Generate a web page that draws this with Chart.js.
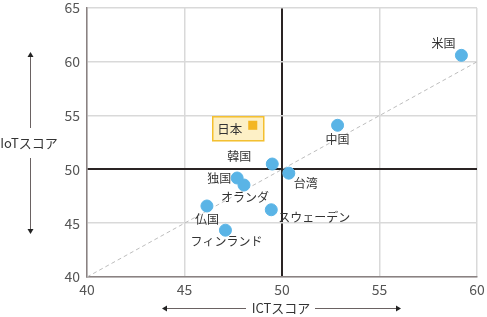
<!DOCTYPE html>
<html><head><meta charset="utf-8">
<script src="https://cdn.jsdelivr.net/npm/chart.js@4/dist/chart.umd.min.js"></script>
<style>html,body{margin:0;padding:0;background:#fff}#wrap{width:487px;height:317px}</style>
</head><body><div id="wrap"><canvas id="c" width="487" height="317"></canvas></div>
<script>
const countries = ['米国','中国','韓国','台湾','独国','オランダ','仏国','スウェーデン','フィンランド'];
const ictScores = [59.2, 52.85, 49.5, 50.35, 47.7, 48.05, 46.15, 49.45, 47.1];
const iotScores = [60.6, 54.1, 50.5, 49.65, 49.2, 48.55, 46.6, 46.25, 44.35];
const japanLabel = '日本';
const japanIct = [48.5];
const japanIot = [54.1];
const xTicks = [40, 45, 50, 55, 60];
const yTicks = [40, 45, 50, 55, 60, 65];
const refLine = [40, 60];

// label offsets (px) from each point
const labelOffsets = [[-18,-12],[0,14],[-33,-8],[17,10],[-18,0],[1,12],[0,13],[43,8],[1,11]];

const FONT = '"Noto Sans CJK JP", "Noto Sans", sans-serif';

const labelPlugin = {
  id: 'labels',
  beforeDatasetsDraw(chart) {
    const ctx = chart.ctx;
    const p = chart.getDatasetMeta(1).data[0];
    ctx.save();
    ctx.fillStyle = '#fdf0c6';
    ctx.strokeStyle = '#f4bf2e';
    ctx.lineWidth = 1.5;
    const x0 = p.x - 40, y0 = p.y - 8.5, w = 51, h = 24;
    ctx.fillRect(x0, y0, w, h);
    ctx.strokeRect(x0, y0, w, h);
    ctx.restore();
  },
  afterDatasetsDraw(chart) {
    const ctx = chart.ctx;
    ctx.save();
    ctx.font = '12px ' + FONT;
    ctx.fillStyle = '#333';
    ctx.textAlign = 'center';
    ctx.textBaseline = 'middle';
    const meta = chart.getDatasetMeta(0);
    meta.data.forEach((pt, i) => {
      ctx.fillText(countries[i], pt.x + labelOffsets[i][0], pt.y + labelOffsets[i][1]);
    });
    const jp = chart.getDatasetMeta(1).data[0];
    ctx.font = '12.5px ' + FONT;
    ctx.fillText(japanLabel, jp.x - 23, jp.y + 4);
    ctx.restore();
  },
  afterDraw(chart) {
    const ctx = chart.ctx;
    ctx.save();
    ctx.strokeStyle = '#6a6262';
    ctx.lineWidth = 1;
    ctx.font = '13px ' + FONT;
    ctx.textAlign = 'center';
    ctx.textBaseline = 'middle';
    // Y axis title
    ctx.fillStyle = '#333';
    ctx.fillText('IoTスコア', 29, 143);
    ctx.beginPath();
    ctx.moveTo(30.5, 128); ctx.lineTo(30.5, 55);
    ctx.moveTo(30.5, 158); ctx.lineTo(30.5, 231);
    ctx.stroke();
    ctx.fillStyle = '#222';
    ctx.beginPath(); ctx.moveTo(30.5, 52); ctx.lineTo(27.5, 57); ctx.lineTo(33.5, 57); ctx.closePath(); ctx.fill();
    ctx.beginPath(); ctx.moveTo(30.5, 234); ctx.lineTo(27.5, 229); ctx.lineTo(33.5, 229); ctx.closePath(); ctx.fill();
    // X axis title
    ctx.fillStyle = '#333';
    ctx.fillText('ICTスコア', 281, 308);
    ctx.beginPath();
    ctx.moveTo(166, 308.5); ctx.lineTo(246, 308.5);
    ctx.moveTo(315, 308.5); ctx.lineTo(397, 308.5);
    ctx.stroke();
    ctx.fillStyle = '#222';
    ctx.beginPath(); ctx.moveTo(162, 308.5); ctx.lineTo(167, 305.5); ctx.lineTo(167, 311.5); ctx.closePath(); ctx.fill();
    ctx.beginPath(); ctx.moveTo(401, 308.5); ctx.lineTo(396, 305.5); ctx.lineTo(396, 311.5); ctx.closePath(); ctx.fill();
    ctx.restore();
  }
};

const gridColor = c => c.tick && c.tick.value === 50 ? '#2a2424' : '#d9d9d9';
const gridWidth = c => c.tick && c.tick.value === 50 ? 2 : 1.5;

new Chart(document.getElementById('c'), {
  type: 'scatter',
  data: {
    datasets: [
      {
        data: countries.map((c, i) => ({x: ictScores[i], y: iotScores[i]})),
        backgroundColor: '#5ab4e6', borderColor: '#5ab4e6',
        pointRadius: 6, pointHoverRadius: 6, order: 1
      },
      {
        data: japanIct.map((v, i) => ({x: v, y: japanIot[i]})),
        pointStyle: 'rect', pointRadius: 6.4, backgroundColor: '#f3b622', borderColor: '#f3b622', borderWidth: 0, order: 1
      },
      {
        type: 'line',
        data: refLine.map(v => ({x: v, y: v})),
        borderColor: '#bdbdbd', borderWidth: 1, borderDash: [4, 3], pointRadius: 0, fill: false, order: 3
      }
    ]
  },
  options: {
    responsive: false, animation: false,
    layout: {padding: {left: 0, right: 10, top: 8, bottom: 0}},
    plugins: {legend: {display: false}, tooltip: {enabled: false}},
    scales: {
      x: {
        type: 'linear', min: 40, max: 60,
        afterBuildTicks: s => { s.ticks = xTicks.map(v => ({value: v})); },
        afterFit: s => { s.height = 40; s.paddingLeft = 0; s.paddingRight = 0; },
        grid: {color: gridColor, lineWidth: gridWidth, drawTicks: false},
        border: {color: '#8a8282', width: 1.5},
        ticks: {font: {size: 14, family: FONT}, color: '#555', padding: 4}
      },
      y: {
        type: 'linear', min: 40, max: 65,
        afterBuildTicks: s => { s.ticks = yTicks.map(v => ({value: v})); },
        afterFit: s => { s.width = 87; s.paddingTop = 0; s.paddingBottom = 0; },
        grid: {color: gridColor, lineWidth: gridWidth, drawTicks: false},
        border: {color: '#8a8282', width: 1.5},
        ticks: {font: {size: 14, family: FONT}, color: '#555', padding: 7}
      }
    }
  },
  plugins: [labelPlugin]
});
</script></body></html>
